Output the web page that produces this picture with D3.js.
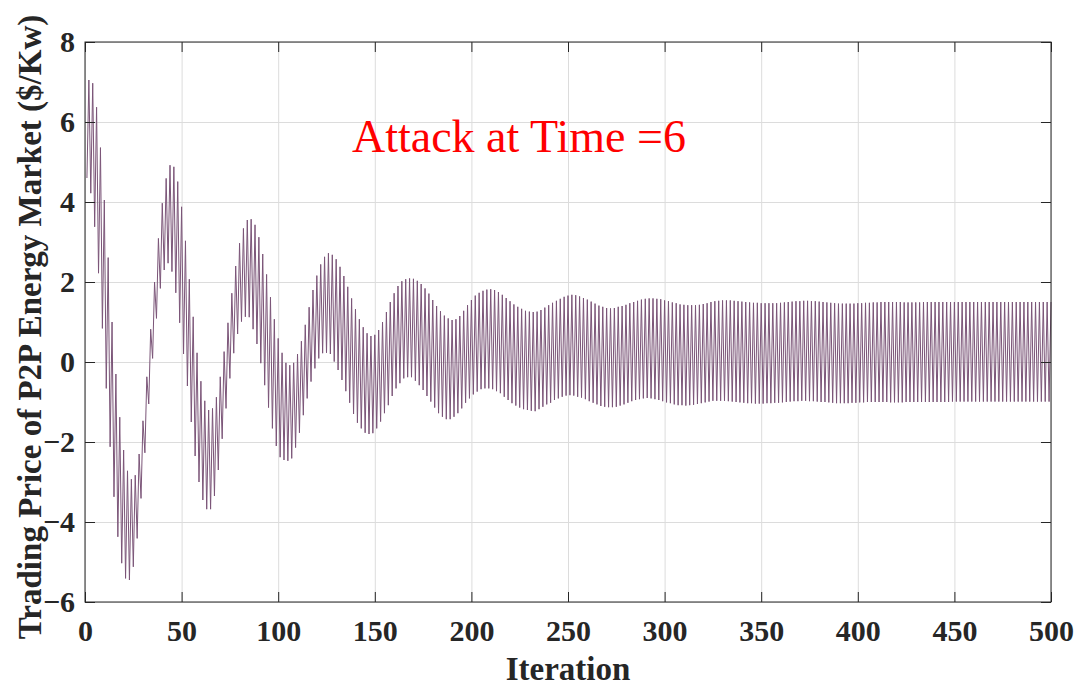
<!DOCTYPE html>
<html>
<head>
<meta charset="utf-8">
<script src="https://cdn.jsdelivr.net/npm/d3@7/dist/d3.min.js"></script>
<style>
body{margin:0;background:#fff;}
</style>
</head>
<body>
<svg id="chart" width="1078" height="688"></svg>
<script>
// price at even iterations (2,4,...,500) - upper side of the zigzag
var highs = [
  7.05, 6.97, 6.37, 5.36, 4.05, 2.61, 1.0, -0.3, -1.38, -2.2,
  -2.72, -2.93, -2.83, -2.3, -1.47, -0.37, 0.82, 2.0, 3.09, 3.97,
  4.59, 4.92, 4.88, 4.51, 3.88, 3.03, 2.07, 1.13, 0.23, -0.48,
  -0.97, -1.2, -1.16, -0.88, -0.37, 0.26, 0.98, 1.72, 2.4, 2.97,
  3.34, 3.55, 3.57, 3.43, 3.12, 2.7, 2.19, 1.62, 1.07, 0.59,
  0.23, -0.02, -0.08, -0.02, 0.2, 0.52, 0.93, 1.37, 1.8, 2.16,
  2.44, 2.63, 2.72, 2.68, 2.57, 2.38, 2.15, 1.88, 1.59, 1.32,
  1.07, 0.87, 0.72, 0.65, 0.68, 0.8, 1.0, 1.25, 1.5, 1.72,
  1.9, 2.02, 2.07, 2.09, 2.08, 2.03, 1.95, 1.84, 1.71, 1.55,
  1.4, 1.27, 1.16, 1.09, 1.05, 1.07, 1.15, 1.28, 1.42, 1.55,
  1.66, 1.73, 1.78, 1.81, 1.82, 1.8, 1.75, 1.68, 1.6, 1.52,
  1.44, 1.38, 1.33, 1.28, 1.26, 1.25, 1.26, 1.3, 1.36, 1.42,
  1.48, 1.53, 1.58, 1.63, 1.66, 1.68, 1.67, 1.64, 1.6, 1.56,
  1.51, 1.46, 1.41, 1.38, 1.35, 1.34, 1.35, 1.38, 1.4, 1.43,
  1.47, 1.5, 1.53, 1.56, 1.58, 1.59, 1.59, 1.58, 1.57, 1.54,
  1.52, 1.49, 1.47, 1.44, 1.43, 1.42, 1.42, 1.42, 1.43, 1.45,
  1.47, 1.5, 1.52, 1.53, 1.54, 1.54, 1.54, 1.53, 1.52, 1.51,
  1.5, 1.49, 1.48, 1.48, 1.47, 1.47, 1.47, 1.47, 1.47, 1.48,
  1.49, 1.5, 1.51, 1.52, 1.52, 1.53, 1.53, 1.52, 1.52, 1.51,
  1.5, 1.49, 1.48, 1.47, 1.46, 1.46, 1.46, 1.46, 1.46, 1.47,
  1.47, 1.48, 1.48, 1.49, 1.49, 1.5, 1.5, 1.5, 1.5, 1.5,
  1.5, 1.49, 1.49, 1.49, 1.49, 1.49, 1.5, 1.5, 1.5, 1.5,
  1.5, 1.5, 1.5, 1.5, 1.5, 1.5, 1.5, 1.5, 1.5, 1.5,
  1.5, 1.5, 1.5, 1.5, 1.5, 1.5, 1.5, 1.5, 1.5, 1.5,
  1.5, 1.5, 1.5, 1.5, 1.5, 1.5, 1.5, 1.5, 1.5, 1.5
];

// price at odd iterations (1,3,...,499) - lower side of the zigzag
var lows = [
  4.6, 4.22, 3.38, 2.22, 0.84, -0.66, -2.12, -3.37, -4.37, -5.03,
  -5.41, -5.45, -5.12, -4.41, -3.41, -2.27, -1.05, 0.09, 1.09, 1.84,
  2.3, 2.47, 2.26, 1.73, 0.98, 0.2, -0.6, -1.5, -2.35, -3.0,
  -3.45, -3.68, -3.68, -3.35, -2.7, -1.92, -1.16, -0.41, 0.22, 0.7,
  1.01, 1.13, 1.12, 0.82, 0.45, -0.03, -0.58, -1.14, -1.66, -2.1,
  -2.38, -2.45, -2.47, -2.41, -2.14, -1.77, -1.33, -0.91, -0.49, -0.16,
  0.09, 0.22, 0.23, 0.2, 0.01, -0.2, -0.45, -0.73, -1.02, -1.3,
  -1.52, -1.66, -1.77, -1.8, -1.78, -1.66, -1.49, -1.28, -1.08, -0.85,
  -0.66, -0.53, -0.41, -0.38, -0.38, -0.47, -0.58, -0.7, -0.85, -0.99,
  -1.14, -1.28, -1.37, -1.43, -1.43, -1.37, -1.28, -1.16, -1.02, -0.91,
  -0.81, -0.74, -0.68, -0.66, -0.66, -0.68, -0.73, -0.78, -0.87, -0.95,
  -1.03, -1.09, -1.14, -1.18, -1.2, -1.22, -1.23, -1.18, -1.12, -1.06,
  -1.02, -0.95, -0.91, -0.87, -0.84, -0.83, -0.84, -0.87, -0.89, -0.93,
  -0.98, -1.02, -1.06, -1.1, -1.12, -1.13, -1.13, -1.12, -1.09, -1.06,
  -1.02, -0.98, -0.95, -0.93, -0.91, -0.9, -0.91, -0.93, -0.95, -0.98,
  -1.01, -1.03, -1.06, -1.08, -1.08, -1.09, -1.08, -1.07, -1.05, -1.03,
  -1.01, -0.99, -0.97, -0.97, -0.97, -0.97, -0.98, -0.99, -1.0, -1.01,
  -1.02, -1.03, -1.03, -1.04, -1.04, -1.04, -1.03, -1.03, -1.02, -1.02,
  -1.01, -1.0, -0.99, -0.98, -0.98, -0.97, -0.97, -0.98, -0.98, -0.99,
  -1.0, -1.0, -1.01, -1.02, -1.03, -1.03, -1.03, -1.03, -1.02, -1.02,
  -1.01, -1.01, -1.0, -1.0, -1.0, -1.0, -1.0, -1.0, -1.01, -1.01,
  -1.01, -1.01, -1.0, -1.0, -1.0, -1.0, -1.0, -1.0, -1.0, -1.0,
  -1.0, -1.0, -1.0, -1.0, -0.99, -0.99, -0.99, -0.99, -0.99, -0.99,
  -0.99, -0.99, -0.99, -0.99, -0.99, -0.99, -0.99, -0.99, -0.99, -0.99,
  -0.99, -0.99, -0.99, -0.99, -0.99, -0.99, -0.99, -0.99, -0.99, -0.99
];

var xTicks = [0, 50, 100, 150, 200, 250, 300, 350, 400, 450, 500];
var yTicks = [-6, -4, -2, 0, 2, 4, 6, 8];
var xLabel = "Iteration";
var yLabel = "Trading Price of P2P Energy Market ($/Kw)";
var note = "Attack at Time =6";

var W = 1078, H = 688;
var margin = {top: 42, right: 27, bottom: 86, left: 85};
var width = W - margin.left - margin.right,
    height = H - margin.top - margin.bottom;
var serif = "'Liberation Serif', 'Times New Roman', Times, serif";
var axColor = "#262626";

//interleave the two sides back into one series
var series = [];
lows.forEach(function(v, k){
  series.push({it: 2*k + 1, p: v});
  series.push({it: 2*k + 2, p: highs[k]});
});

var svg = d3.select("#chart");
var g = svg.append("g").attr("transform", "translate(" + margin.left + "," + margin.top + ")");

var x = d3.scaleLinear().domain([0, 500]).range([0, width]);
var y = d3.scaleLinear().domain([-6, 8]).range([height, 0]);

//grid lines
function gridX() { return d3.axisBottom(x).tickValues(xTicks).tickSize(-height).tickFormat(""); }
function gridY() { return d3.axisLeft(y).tickValues(yTicks).tickSize(-width).tickFormat(""); }

var grid = g.append("g").attr("class", "grid");
grid.append("g").attr("transform", "translate(0," + height + ")").call(gridX());
grid.append("g").call(gridY());
grid.selectAll(".domain").remove();
grid.selectAll("line").attr("stroke", "#dcdcdc").attr("stroke-width", 1);

//price line
var line = d3.line()
  .x(function(d){ return x(d.it); })
  .y(function(d){ return y(d.p); });

g.append("path")
  .datum(series)
  .attr("fill", "none")
  .attr("stroke", "#7b5578")
  .attr("stroke-width", 1)
  .attr("d", line);

//axes, ticks pointing inwards
var axes = g.append("g").attr("class", "axes");

var xAxis = axes.append("g")
  .attr("transform", "translate(0," + height + ")")
  .call(d3.axisBottom(x).tickValues(xTicks).tickSize(-10).tickPadding(0));
xAxis.selectAll("text")
  .attr("y", 39).attr("dy", null);

var yAxis = axes.append("g")
  .call(d3.axisLeft(y).tickValues(yTicks).tickSize(-10).tickPadding(0));
yAxis.selectAll("text")
  .attr("x", -10).attr("dy", "0.32em");

axes.append("g")
  .call(d3.axisTop(x).tickValues(xTicks).tickSize(-10).tickFormat(""));
axes.append("g")
  .attr("transform", "translate(" + width + ",0)")
  .call(d3.axisRight(y).tickValues(yTicks).tickSize(-10).tickFormat(""));

axes.selectAll(".domain").remove();
axes.selectAll("g").attr("font-family", null).attr("font-size", null);
axes.selectAll(".tick line").attr("stroke", axColor);
axes.selectAll("text")
  .style("font-family", serif)
  .style("font-size", "30px")
  .style("font-weight", "bold")
  .attr("fill", axColor);

//box
g.append("rect")
  .attr("width", width).attr("height", height)
  .attr("fill", "none").attr("stroke", axColor).attr("stroke-width", 1);

//axis titles
svg.append("text")
  .attr("x", margin.left + width/2)
  .attr("y", 680)
  .attr("text-anchor", "middle")
  .style("font-family", serif)
  .style("font-size", "33px").style("font-weight", "bold")
  .attr("fill", axColor)
  .text(xLabel);

svg.append("text")
  .attr("transform", "translate(41,327) rotate(-90)")
  .attr("text-anchor", "middle")
  .style("font-family", serif)
  .style("font-size", "33px").style("font-weight", "bold")
  .attr("fill", axColor)
  .text(yLabel);

//annotation
g.append("text")
  .attr("x", 352 - margin.left)
  .attr("y", 152 - margin.top)
  .style("font-family", serif)
  .style("font-size", "46px")
  .attr("fill", "#ff0000")
  .text(note);
</script>
</body>
</html>
